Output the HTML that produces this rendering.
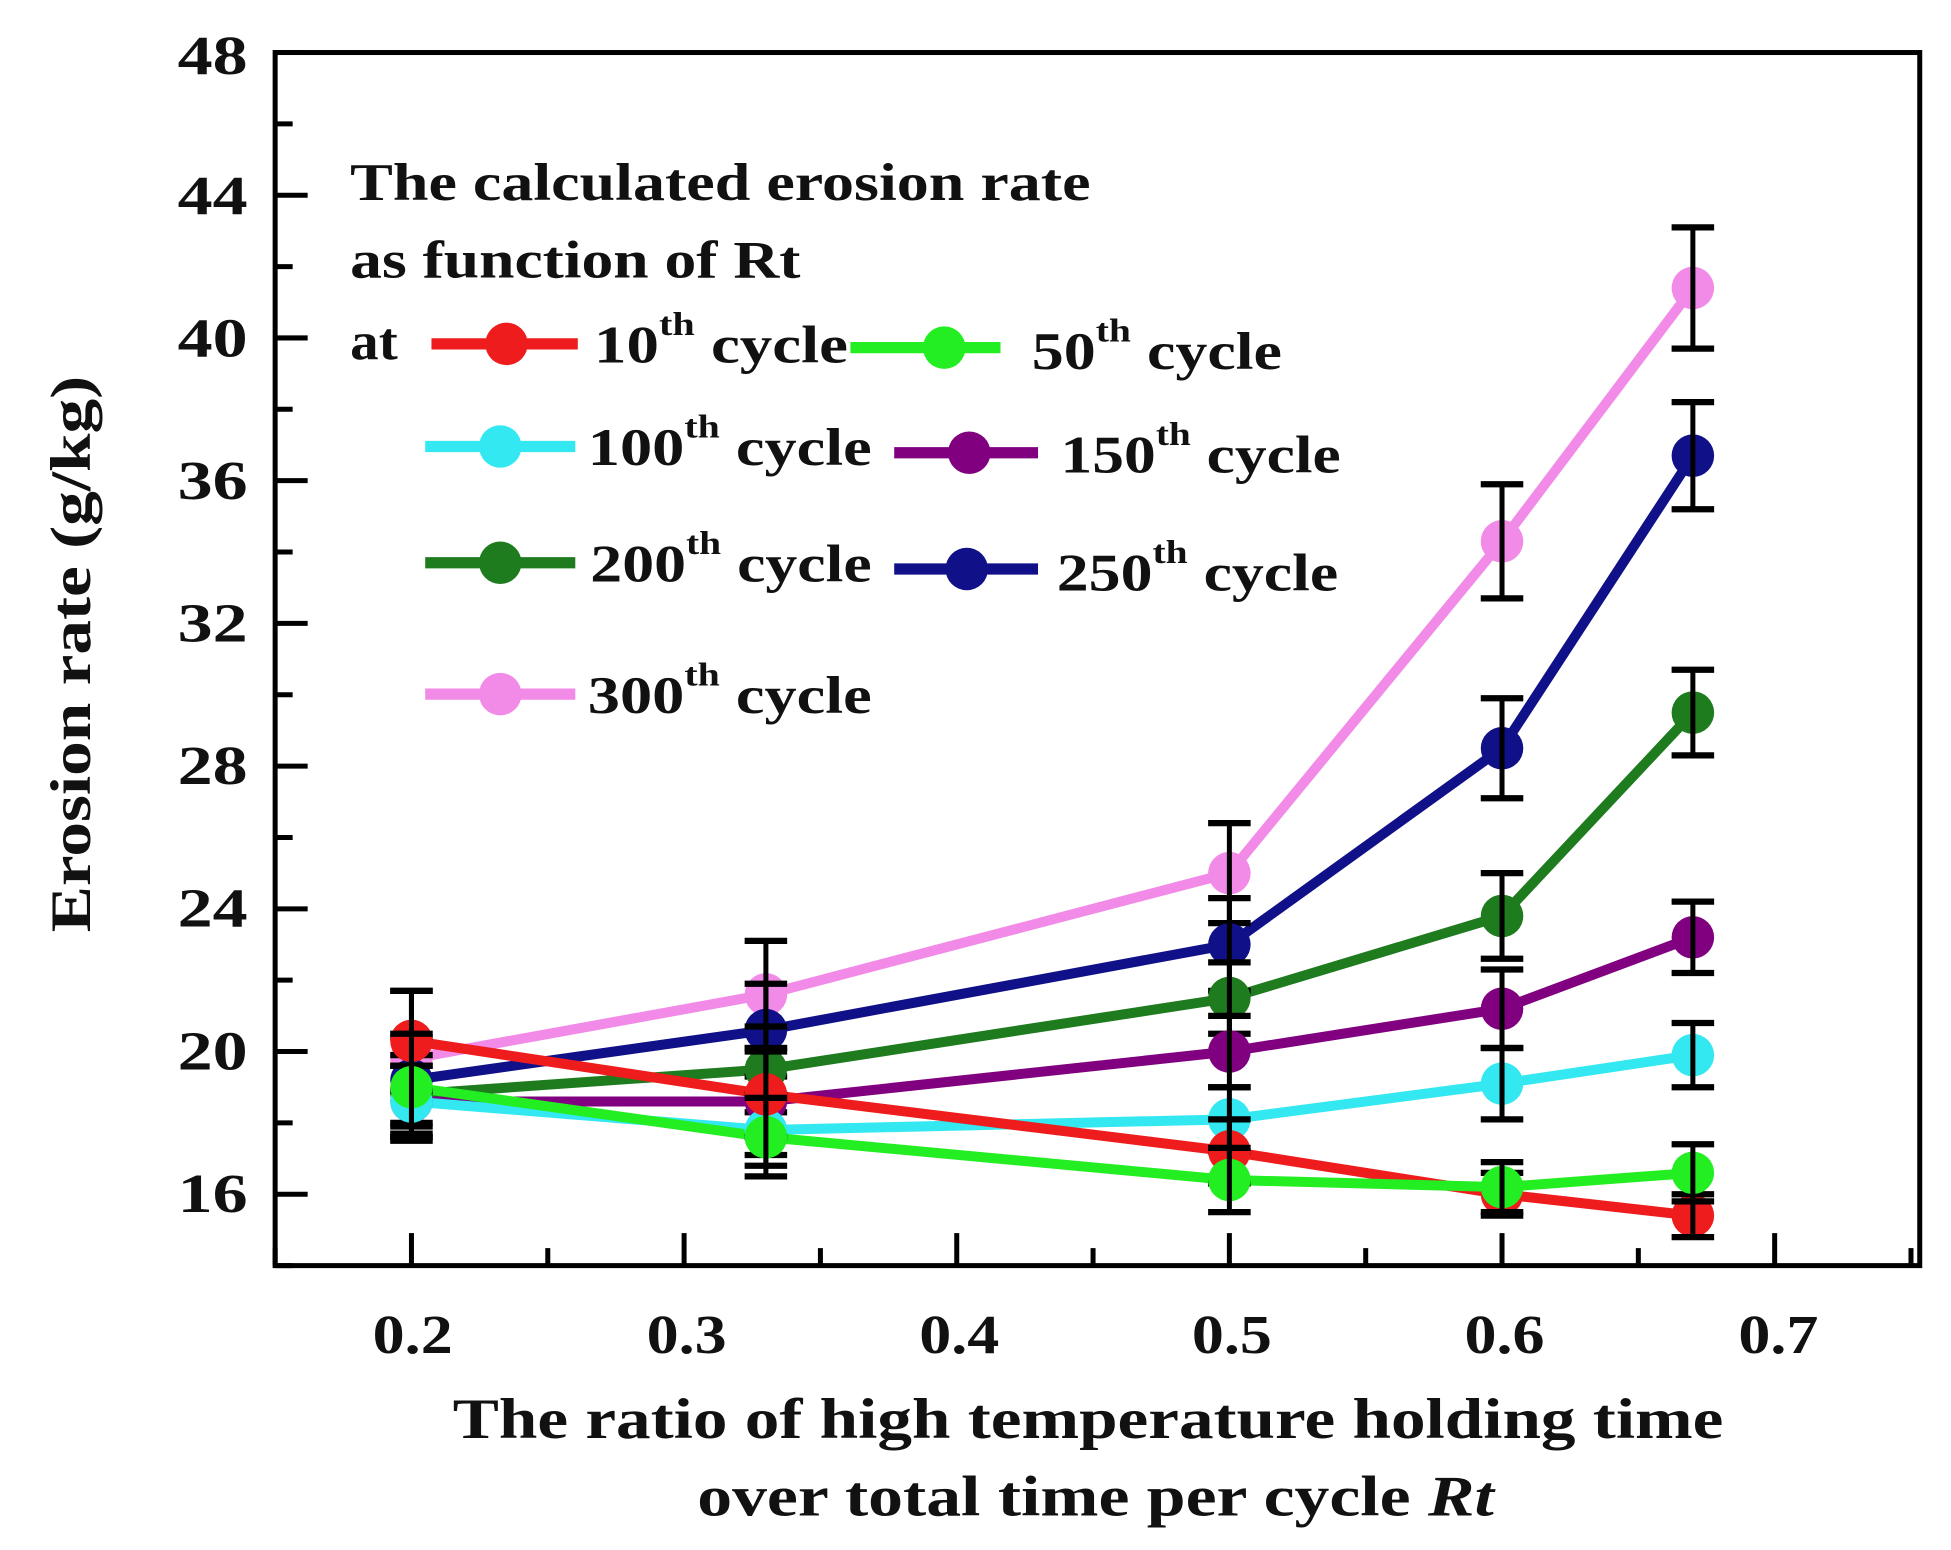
<!DOCTYPE html>
<html><head><meta charset="utf-8"><style>
html,body{margin:0;padding:0;background:#fff;}
svg{display:block;}
text{font-family:"Liberation Serif",serif;font-weight:bold;fill:#111;}
</style></head><body>
<svg width="1951" height="1550" viewBox="0 0 1560 1239.4" preserveAspectRatio="none" xmlns="http://www.w3.org/2000/svg">
<rect x="0" y="0" width="1560" height="1240" fill="#fff"/>
<g id="plot"></g>
<rect x="220" y="42" width="1315" height="970" fill="none" stroke="#000" stroke-width="4"/>
<g font-size="44" text-anchor="end">
<text x="198" y="969" textLength="56" lengthAdjust="spacingAndGlyphs">16</text><text x="198" y="855" textLength="56" lengthAdjust="spacingAndGlyphs">20</text><text x="198" y="741" textLength="56" lengthAdjust="spacingAndGlyphs">24</text>
<text x="198" y="627" textLength="56" lengthAdjust="spacingAndGlyphs">28</text><text x="198" y="513" textLength="56" lengthAdjust="spacingAndGlyphs">32</text><text x="198" y="399" textLength="56" lengthAdjust="spacingAndGlyphs">36</text>
<text x="198" y="285" textLength="56" lengthAdjust="spacingAndGlyphs">40</text><text x="198" y="171" textLength="56" lengthAdjust="spacingAndGlyphs">44</text><text x="198" y="59" textLength="56" lengthAdjust="spacingAndGlyphs">48</text>
</g>
<g font-size="44" text-anchor="middle">
<text x="330" y="1082" textLength="64" lengthAdjust="spacingAndGlyphs">0.2</text><text x="549" y="1082" textLength="64" lengthAdjust="spacingAndGlyphs">0.3</text><text x="767" y="1082" textLength="64" lengthAdjust="spacingAndGlyphs">0.4</text>
<text x="985" y="1082" textLength="64" lengthAdjust="spacingAndGlyphs">0.5</text><text x="1203" y="1082" textLength="64" lengthAdjust="spacingAndGlyphs">0.6</text><text x="1422" y="1082" textLength="64" lengthAdjust="spacingAndGlyphs">0.7</text>
</g>
<text font-size="46" text-anchor="middle" textLength="445" lengthAdjust="spacingAndGlyphs" transform="translate(72,523) rotate(-90)">Erosion rate (g/kg)</text>
<text font-size="46" text-anchor="middle" x="870" y="1150" textLength="1016" lengthAdjust="spacingAndGlyphs">The ratio of high temperature holding time</text>
<text font-size="46" text-anchor="middle" x="876" y="1212" textLength="637" lengthAdjust="spacingAndGlyphs">over total time per cycle <tspan font-style="italic">Rt</tspan></text>
<g font-size="42">
<text x="280" y="160" textLength="592" lengthAdjust="spacingAndGlyphs">The calculated erosion rate</text>
<text x="280" y="222" textLength="360" lengthAdjust="spacingAndGlyphs">as function of Rt</text>
<text x="280" y="287" textLength="38" lengthAdjust="spacingAndGlyphs">at</text>
</g>
<g id="leg"></g>
<script>
var X=function(v){return 220+(v-0.15)*2180;};
var Y=function(v){return 1012-(v-14)*28.53;};
var xs=[0.2,0.33,0.5,0.6,0.67];
var S=[
["#f28ae8",[19.8,21.6,25.0,34.3,41.4],[1.9,1.5,1.4,1.6,1.7]],
["#101088",[19.2,20.6,23.0,28.5,36.7],[1.2,1.3,1.3,1.4,1.5]],
["#1e7b1e",[18.8,19.5,21.5,23.8,29.5],[1.1,1.2,1.0,1.2,1.2]],
["#800080",[18.6,18.6,20.0,21.2,23.2],[1.0,1.5,1.0,1.1,1.0]],
["#33e8f0",[18.6,17.8,18.1,19.1,19.9],[1.0,1.0,0.9,1.0,0.9]],
["#ee1c1c",[20.3,18.8,17.2,16.0,15.4],[1.4,1.2,0.9,0.6,0.6]],
["#22ee22",[19.0,17.6,16.4,16.2,16.6],[1.5,1.1,0.9,0.7,0.8]]
];
var ns="http://www.w3.org/2000/svg";
function el(t,a,p){var e=document.createElementNS(ns,t);for(var k in a)e.setAttribute(k,a[k]);p.appendChild(e);return e;}
var g=document.getElementById("plot");
for(var v=14;v<=48;v+=2){var y=Y(v);var maj=(v%4==0);el("line",{x1:220,x2:maj?246:234,y1:y,y2:y,stroke:"#000","stroke-width":4},g);}
for(var i=0;i<=12;i++){var xv=0.15+i*0.05;var x=X(xv);var maj=(i%2==1);el("line",{x1:x,x2:x,y1:1012,y2:maj?986:998,stroke:"#000","stroke-width":4},g);}
S.forEach(function(s){
 var pts=xs.map(function(x,i){return X(x)+","+Y(s[1][i]);}).join(" ");
 el("polyline",{points:pts,fill:"none",stroke:s[0],"stroke-width":8},g);
});
S.forEach(function(s){
 xs.forEach(function(x,i){var cx=X(x),cy=Y(s[1][i]),e=s[2][i];
  el("circle",{cx:cx,cy:cy,r:17,fill:s[0]},g);
  var y1=Y(s[1][i]+e),y2=Y(s[1][i]-e);
  el("line",{x1:cx,x2:cx,y1:y1,y2:y2,stroke:"#000","stroke-width":4},g);
  el("line",{x1:cx-17,x2:cx+17,y1:y1,y2:y1,stroke:"#000","stroke-width":5},g);
  el("line",{x1:cx-17,x2:cx+17,y1:y2,y2:y2,stroke:"#000","stroke-width":5},g);
 });
});
var L=document.getElementById("leg");
var LE=[["#ee1c1c",345,462,275,405,475,290,"10",203],["#22ee22",680,800,278,755,825,295,"50",200],
["#33e8f0",340,460,357,400,470,372,"100",227],["#800080",715,830,362,775,848,378,"150",224],
["#1e7b1e",340,460,450,400,472,465,"200",225],["#101088",715,830,455,773,845,472,"250",225],
["#f28ae8",340,460,555,400,470,570,"300",227]];
LE.forEach(function(l){
 el("line",{x1:l[1],x2:l[2],y1:l[3],y2:l[3],stroke:l[0],"stroke-width":9},L);
 el("circle",{cx:l[4],cy:l[3],r:17,fill:l[0]},L);
 var t=el("text",{x:l[5],y:l[6],"font-size":42,textLength:l[8],lengthAdjust:"spacingAndGlyphs"},L);
 t.appendChild(document.createTextNode(l[7]));
 var s=el("tspan",{"font-size":26,dy:-22},t);s.appendChild(document.createTextNode("th"));
 var s2=el("tspan",{dy:22},t);s2.appendChild(document.createTextNode(" cycle"));
});
</script>
</svg>
</body></html>
